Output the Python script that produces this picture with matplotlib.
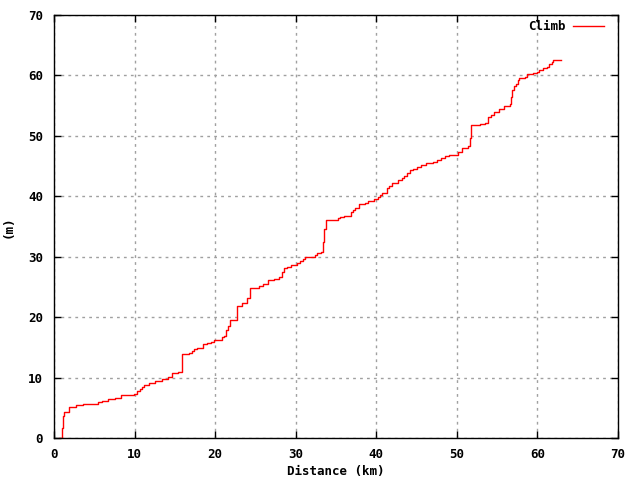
import matplotlib
matplotlib.use("Agg")
import matplotlib.pyplot as plt

# step profile: distance (km) where climb (m) changes to the given value
dist = [0.6, 1.03, 1.16, 1.28, 1.9, 2.73, 3.55, 5.4, 6.0, 6.66, 7.57, 8.3,
        9.9, 10.26, 10.67, 10.96, 11.2, 11.8, 12.5, 13.4, 14.2, 14.6, 15.35,
        15.85, 16.7, 17.1, 17.4, 17.8, 18.45, 18.95, 19.45, 19.9, 20.9, 21.1,
        21.35, 21.6, 21.8, 22.67, 23.3, 24.0, 24.3, 25.4, 25.9, 26.5, 27.35,
        27.95, 28.25, 28.6, 28.95, 29.4, 30.1, 30.5, 30.9, 31.15, 32.4, 32.7,
        33.2, 33.4, 33.55, 33.7, 35.2, 35.5, 36.0, 36.8, 37.1, 37.35, 37.85,
        38.6, 39.0, 39.7, 40.25, 40.45, 40.65, 41.3, 41.6, 42.0, 42.7, 43.15,
        43.5, 43.85, 44.2, 44.5, 45.1, 45.55, 46.2, 47.1, 47.5, 48.0, 48.5,
        49.0, 50.2, 50.7, 51.4, 51.6, 51.8, 52.9, 53.5, 53.9, 54.2, 54.65,
        55.25, 55.9, 56.6, 56.7, 56.9, 57.1, 57.35, 57.6, 57.75, 58.45, 58.65,
        59.4, 59.9, 60.25, 60.65, 61.15, 61.45, 61.8, 61.9, 62.9]
climb = [0.0, 1.7, 3.6, 4.35, 5.1, 5.4, 5.7, 5.9, 6.1, 6.5, 6.7, 7.07,
         7.3, 7.7, 8.05, 8.4, 8.7, 9.05, 9.4, 9.8, 10.15, 10.7, 10.9,
         13.85, 14.1, 14.45, 14.7, 14.9, 15.5, 15.65, 15.9, 16.3, 16.65, 16.9,
         17.9, 18.5, 19.5, 21.8, 22.4, 23.2, 24.9, 25.15, 25.5, 26.1, 26.3,
         26.7, 27.5, 28.1, 28.35, 28.6, 28.9, 29.3, 29.7, 30.0, 30.3, 30.55,
         30.8, 32.5, 34.6, 36.1, 36.35, 36.5, 36.8, 37.35, 37.7, 38.0, 38.7,
         38.95, 39.2, 39.5, 39.8, 40.2, 40.6, 41.4, 41.75, 42.15, 42.7, 43.1,
         43.4, 43.8, 44.35, 44.45, 44.9, 45.1, 45.45, 45.7, 46.0, 46.3, 46.7,
         46.9, 47.3, 48.0, 48.4, 49.6, 51.75, 51.9, 52.2, 53.05, 53.45, 54.0,
         54.4, 55.0, 55.2, 56.5, 57.6, 58.25, 58.6, 59.25, 59.5, 59.8, 60.2,
         60.45, 60.6, 60.9, 61.2, 61.45, 61.85, 62.3, 62.5, 62.5]

plt.rcParams['font.family'] = ['DejaVu Sans Mono']
plt.rcParams['font.size'] = 9
plt.rcParams['font.weight'] = 'bold'

fig = plt.figure(figsize=(6.4, 4.8), dpi=100)
ax = fig.add_axes([0.0844, 0.0875, 0.8812, 0.88125])

ax.plot(dist, climb, drawstyle='steps-post', color='red', linewidth=1, label='Climb')

ax.set_xlim(0, 70)
ax.set_ylim(0, 70)
ax.set_xticks(range(0, 71, 10))
ax.set_yticks(range(0, 71, 10))
ax.tick_params(axis='x', direction='in', top=True, length=5, width=1, pad=7)
ax.tick_params(axis='y', direction='in', right=True, length=5, width=1, pad=8)
ax.grid(True, color='#a0a0a0', linestyle=(0, (2, 3)), linewidth=1)
for s in ax.spines.values():
    s.set_linewidth(1)

ax.set_xlabel("Distance (km)", fontweight='bold')
ax.xaxis.set_label_coords(0.5, -0.063)
ax.set_ylabel("(m)", fontweight='bold')
ax.yaxis.set_label_coords(-0.069, 0.5)

ax.legend(loc='upper right', bbox_to_anchor=(0.984, 1.0), frameon=False,
          markerfirst=False, handlelength=2.5, handletextpad=0.6,
          borderaxespad=0, prop={'weight': 'bold'})

fig.savefig("out.png", dpi=100)
